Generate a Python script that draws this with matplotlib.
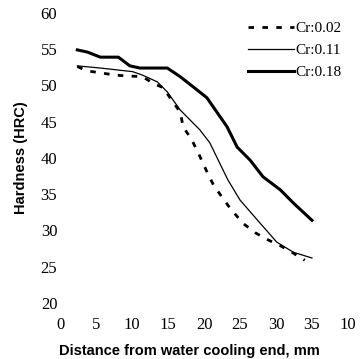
import matplotlib
matplotlib.use("Agg")
import matplotlib.pyplot as plt

# Jominy curves
x_002 = [2.4, 3.8, 7.9, 11.5, 12.9, 14.3, 16.7, 17.1, 18.3, 19.2, 20.4, 21.3, 22.5, 23.6, 25.4, 27.1, 28.9, 30.6, 32.2, 34.0]
y_002 = [52.6, 52.0, 51.4, 51.2, 50.3, 49.7, 46.3, 44.3, 42.5, 40.7, 38.1, 36.3, 34.6, 33.1, 31.0, 29.7, 28.7, 27.9, 27.0, 25.9]

x_011 = [2.4, 5.6, 10.1, 11.5, 13.5, 14.9, 16.7, 19.4, 20.8, 23.3, 25.0, 27.8, 30.1, 32.4, 35.0]
y_011 = [52.7, 52.4, 51.9, 51.4, 50.5, 49.1, 46.6, 43.9, 42.1, 37.0, 34.2, 31.0, 28.4, 27.0, 26.2]

x_018 = [2.4, 3.8, 5.6, 8.1, 9.7, 11.1, 14.9, 16.7, 18.5, 20.4, 23.2, 24.6, 26.4, 28.2, 30.6, 32.4, 35.0]
y_018 = [54.9, 54.6, 53.9, 53.9, 52.7, 52.4, 52.4, 51.2, 49.8, 48.3, 44.3, 41.5, 39.7, 37.4, 35.6, 33.8, 31.4]

labels = ["Cr:0.02", "Cr:0.11", "Cr:0.18"]
xticks = [0, 5, 10, 15, 20, 25, 30, 35, 40]
xticklabels = ["0", "5", "10", "15", "20", "25", "30", "35", "10"]
yticks = [20, 25, 30, 35, 40, 45, 50, 55, 60]

fig = plt.figure(figsize=(3.64, 3.59), dpi=100)
ax = fig.add_axes([0.165, 0.156, 0.791, 0.808])

ax.plot(x_002, y_002, color="black", lw=2.0, ls=(0, (2, 3)), label=labels[0])
ax.plot(x_011, y_011, color="black", lw=0.9, label=labels[1])
ax.plot(x_018, y_018, color="black", lw=2.2, label=labels[2])

ax.set_xlim(0, 40)
ax.set_ylim(20, 60)
ax.set_xticks(xticks)
ax.set_xticklabels(xticklabels)
ax.set_yticks(yticks)
for s in ax.spines.values():
    s.set_visible(False)
ax.tick_params(length=0, labelsize=12)
ax.tick_params(axis="x", pad=10)
ax.tick_params(axis="y", pad=2)
for t in ax.get_xticklabels() + ax.get_yticklabels():
    t.set_family("Liberation Serif")

ax.set_xlabel("Distance from water cooling end, mm", fontsize=10.5, fontweight="bold",
              family="Liberation Sans")
ax.xaxis.set_label_coords(0.45, -0.14)
ax.set_ylabel("Hardness (HRC)", fontsize=10.5, fontweight="bold",
              family="Liberation Sans", labelpad=9)

leg = ax.legend(loc="upper right", frameon=False, handlelength=3.0, handletextpad=0.1,
                prop={"family": "Liberation Serif", "size": 11},
                bbox_to_anchor=(1.025, 1.018), labelspacing=0.55)

fig.savefig("out.png", dpi=100)
